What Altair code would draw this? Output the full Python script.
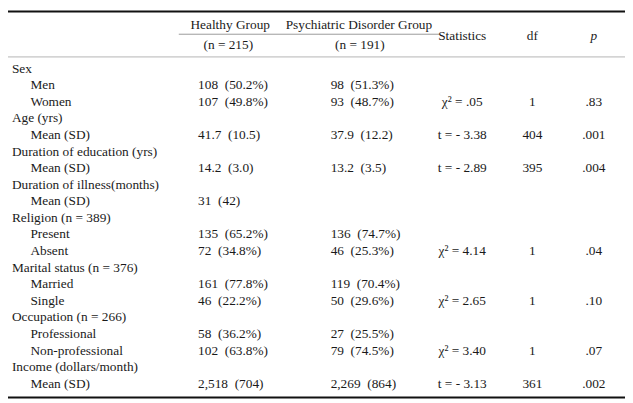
import altair as alt
import pandas as pd

NB = "\u00a0"

labels = ["Sex", "Men", "Women", "Age (yrs)", "Mean (SD)", "Duration of education (yrs)", "Mean (SD)",
          "Duration of illness(months)", "Mean (SD)", "Religion (n = 389)", "Present", "Absent",
          "Marital status (n = 376)", "Married", "Single", "Occupation (n = 266)", "Professional",
          "Non-professional", "Income (dollars/month)", "Mean (SD)"]
indent = [0, 1, 1, 0, 1, 0, 1, 0, 1, 0, 1, 1, 0, 1, 1, 0, 1, 1, 0, 1]
healthy = ["", "108 (50.2%)", "107 (49.8%)", "", "41.7 (10.5)", "", "14.2 (3.0)", "", "31 (42)", "",
           "135 (65.2%)", "72 (34.8%)", "", "161 (77.8%)", "46 (22.2%)", "", "58 (36.2%)",
           "102 (63.8%)", "", "2,518 (704)"]
psych = ["", "98 (51.3%)", "93 (48.7%)", "", "37.9 (12.2)", "", "13.2 (3.5)", "", "", "",
         "136 (74.7%)", "46 (25.3%)", "", "119 (70.4%)", "50 (29.6%)", "", "27 (25.5%)",
         "79 (74.5%)", "", "2,269 (864)"]
stats = ["", "", "χ² = .05", "", "t = - 3.38", "", "t = - 2.89", "", "", "", "", "χ² = 4.14", "", "",
         "χ² = 2.65", "", "", "χ² = 3.40", "", "t = - 3.13"]
dfs = ["", "", "1", "", "404", "", "395", "", "", "", "", "1", "", "", "1", "", "", "1", "", "361"]
pvals = ["", "", ".83", "", ".001", "", ".004", "", "", "", "", ".04", "", "", ".10", "", "", ".07", "",
         ".002"]

header_top = ["Healthy Group", "Psychiatric Disorder Group"]
header_n = ["(n = 215)", "(n = 191)"]
header_right = ["Statistics", "df", "p"]

# layout (reference-pixel x positions)
col_x = {"label": 4, "sublabel": 23, "healthy": 195, "psych": 331,
         "stats": 466, "df": 538, "p": 601,
         "h_head": 228, "p_head": 360, "h_n": 226, "p_n": 361}

def sp(s):
    return s.replace(" (", NB + NB + "(")

left_rows, center_rows = [], []
for r, lab in enumerate(labels):
    left_rows.append({"r": r, "x": col_x["sublabel" if indent[r] else "label"], "t": lab})
    if healthy[r]:
        left_rows.append({"r": r, "x": col_x["healthy"], "t": sp(healthy[r])})
    if psych[r]:
        left_rows.append({"r": r, "x": col_x["psych"], "t": sp(psych[r])})
    for key, arr in (("stats", stats), ("df", dfs), ("p", pvals)):
        if arr[r]:
            center_rows.append({"r": r, "x": col_x[key], "t": arr[r]})

center_rows += [
    {"r": -2.63, "x": col_x["h_head"], "t": header_top[0]},
    {"r": -2.63, "x": col_x["p_head"], "t": header_top[1]},
    {"r": -1.40, "x": col_x["h_n"], "t": header_n[0]},
    {"r": -1.40, "x": col_x["p_n"], "t": header_n[1]},
    {"r": -1.98, "x": col_x["stats"], "t": header_right[0]},
    {"r": -1.98, "x": col_x["df"], "t": header_right[1]},
]
italic_rows = [{"r": -1.98, "x": col_x["p"], "t": header_right[2]}]

W, H = 625, 395
xs = alt.Scale(domain=[0, 633], range=[0, W])
ys = alt.Scale(domain=[-3.5, 20.0], range=[0, H])
FONT = "Liberation Serif"
FS = 13.5
COL = "#1a1a1a"

def text_layer(rows, align, style="normal"):
    return alt.Chart(pd.DataFrame(rows)).mark_text(
        align=align, baseline="middle", font=FONT, fontSize=FS, color=COL, fontStyle=style
    ).encode(
        x=alt.X("x:Q", scale=xs, axis=None),
        y=alt.Y("r:Q", scale=ys, axis=None),
        text="t:N",
    )

def rule(x1, x2, y, color, w):
    return alt.Chart(pd.DataFrame({"a": [0]})).mark_rule(color=color, strokeWidth=w).encode(
        x=alt.value(x1), x2=alt.value(x2), y=alt.value(y))

chart = alt.layer(
    rule(0, W, 1, "#111", 2),
    rule(173, 437, 24, "#9a9a9a", 1),
    rule(0, W, 47, "#b5b5b5", 1),
    rule(0, W, 392, "#111", 2),
    text_layer(left_rows, "left"),
    text_layer(center_rows, "center"),
    text_layer(italic_rows, "center", "italic"),
).properties(
    width=W, height=H, padding=0,
    autosize=alt.AutoSizeParams(type="none"),
).configure_view(stroke=None)

chart.save("out.html", embed_options={"renderer": "svg", "actions": False})
